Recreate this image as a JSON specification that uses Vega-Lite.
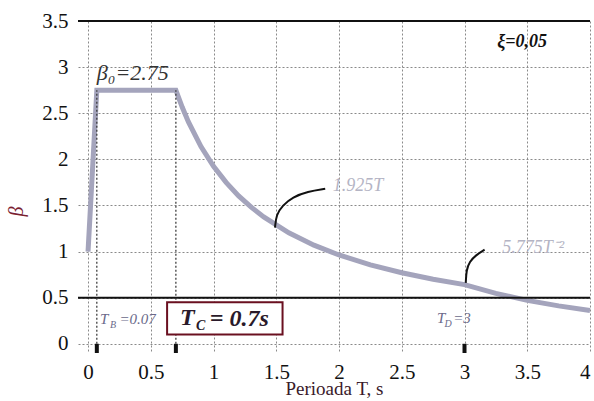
{
  "$schema": "https://vega.github.io/schema/vega-lite/v6.json",
  "width": 512,
  "height": 332,
  "autosize": {"type": "none"},
  "padding": {"left": 78, "top": 21, "right": 4, "bottom": 48},
  "background": "white",
  "config": {
    "view": {"stroke": null},
    "font": "Liberation Serif",
    "axis": {
      "domain": false,
      "ticks": false,
      "grid": true,
      "gridColor": "#8a8a8a",
      "gridDash": [2, 2],
      "gridWidth": 1,
      "labelFont": "Liberation Serif",
      "labelFontSize": 21,
      "labelColor": "#111",
      "titleFont": "Liberation Serif",
      "titleFontWeight": "normal"
    }
  },
  "datasets": {
    "spectrum": [
      {"T": 0, "beta": 1},
      {"T": 0.07, "beta": 2.75},
      {"T": 0.7, "beta": 2.75},
      {"T": 0.75, "beta": 2.567},
      {"T": 0.8, "beta": 2.406},
      {"T": 0.9, "beta": 2.139},
      {"T": 1.0, "beta": 1.925},
      {"T": 1.1, "beta": 1.75},
      {"T": 1.2, "beta": 1.604},
      {"T": 1.3, "beta": 1.481},
      {"T": 1.4, "beta": 1.375},
      {"T": 1.6, "beta": 1.203},
      {"T": 1.8, "beta": 1.069},
      {"T": 2.0, "beta": 0.963},
      {"T": 2.25, "beta": 0.856},
      {"T": 2.5, "beta": 0.77},
      {"T": 2.75, "beta": 0.7},
      {"T": 3.0, "beta": 0.642},
      {"T": 3.25, "beta": 0.547},
      {"T": 3.5, "beta": 0.471},
      {"T": 3.75, "beta": 0.411},
      {"T": 4.0, "beta": 0.361}
    ],
    "hlines": [{"beta": 3.5}, {"beta": 0.5}],
    "vlines": [{"T": 0.07, "beta": 0, "beta2": 2.75}, {"T": 0.7, "beta": 0, "beta2": 2.75}],
    "marks": [{"T": 0.07, "beta": -0.1, "beta2": 0}, {"T": 0.7, "beta": -0.1, "beta2": 0}, {"T": 3.0, "beta": -0.1, "beta2": 0}],
    "leaders": [
      {"id": 1, "T": 1.49, "beta": 1.26},
      {"id": 1, "T": 1.5, "beta": 1.4},
      {"id": 1, "T": 1.55, "beta": 1.5},
      {"id": 1, "T": 1.63, "beta": 1.59},
      {"id": 1, "T": 1.75, "beta": 1.65},
      {"id": 1, "T": 1.89, "beta": 1.68},
      {"id": 2, "T": 3.01, "beta": 0.66},
      {"id": 2, "T": 3.015, "beta": 0.8},
      {"id": 2, "T": 3.04, "beta": 0.89},
      {"id": 2, "T": 3.09, "beta": 0.96},
      {"id": 2, "T": 3.16, "beta": 1.02}
    ],
    "box": [{"T": 0.63, "T2": 1.55, "beta": 0.45, "beta2": 0.1}]
  },
  "layer": [
    {
      "data": {"name": "spectrum"},
      "mark": {"type": "line", "color": "#a4a4bc", "strokeWidth": 5},
      "encoding": {
        "x": {
          "field": "T", "type": "quantitative", "title": "Perioada T, s",
          "scale": {"domain": [-0.08, 4.0], "nice": false, "zero": false},
          "axis": {"values": [0, 0.5, 1, 1.5, 2, 2.5, 3, 3.5, 4], "format": "~g", "labelFont": "Liberation Serif", "labelFontSize": 21, "labelPadding": 8, "titleFont": "Liberation Serif", "titleFontSize": 19, "titleColor": "#3a1a2a", "titlePadding": -3}
        },
        "y": {
          "field": "beta", "type": "quantitative", "title": "β",
          "scale": {"domain": [-0.1, 3.5], "nice": false, "zero": false},
          "axis": {"values": [0, 0.5, 1, 1.5, 2, 2.5, 3, 3.5], "format": "~g", "labelFont": "Liberation Serif", "labelFontSize": 21, "labelPadding": 10, "titleFont": "Liberation Serif", "titleFontSize": 20, "titleColor": "#7a2030", "titleFontStyle": "italic", "titleX": -52, "titleY": 190}
        }
      }
    },
    {
      "data": {"name": "hlines"},
      "mark": {"type": "rule", "color": "#111", "strokeWidth": 2},
      "encoding": {"y": {"field": "beta", "type": "quantitative", "title": "β"}}
    },
    {
      "data": {"name": "vlines"},
      "mark": {"type": "rule", "color": "#333", "strokeWidth": 1.2, "strokeDash": [2, 2]},
      "encoding": {
        "x": {"field": "T", "type": "quantitative", "title": "Perioada T, s"},
        "y": {"field": "beta", "type": "quantitative", "title": "β"},
        "y2": {"field": "beta2"}
      }
    },
    {
      "data": {"name": "marks"},
      "mark": {"type": "rule", "color": "#111", "strokeWidth": 4},
      "encoding": {
        "x": {"field": "T", "type": "quantitative", "title": "Perioada T, s"},
        "y": {"field": "beta", "type": "quantitative", "title": "β"},
        "y2": {"field": "beta2"}
      }
    },
    {
      "data": {"name": "leaders"},
      "mark": {"type": "line", "color": "#111", "strokeWidth": 2, "interpolate": "basis"},
      "encoding": {
        "x": {"field": "T", "type": "quantitative", "title": "Perioada T, s"},
        "y": {"field": "beta", "type": "quantitative", "title": "β"},
        "detail": {"field": "id"}
      }
    },
    {
      "data": {"name": "box"},
      "mark": {"type": "rect", "fill": "white", "stroke": "#6a1020", "strokeWidth": 2},
      "encoding": {
        "x": {"field": "T", "type": "quantitative", "title": "Perioada T, s"},
        "x2": {"field": "T2"},
        "y": {"field": "beta", "type": "quantitative", "title": "β"},
        "y2": {"field": "beta2"}
      }
    },
    {
      "data": {"values": [{"T": 0.07, "beta": 2.94, "label": "β₀=2.75"}]},
      "mark": {"type": "text", "align": "left", "baseline": "middle", "font": "Liberation Serif", "fontStyle": "italic", "fontSize": 22, "color": "#333"},
      "encoding": {
        "x": {"field": "T", "type": "quantitative", "title": "Perioada T, s"},
        "y": {"field": "beta", "type": "quantitative", "title": "β"},
        "text": {"field": "label"}
      }
    },
    {
      "data": {"values": [{"T": 3.26, "beta": 3.27, "label": "ξ=0,05"}]},
      "mark": {"type": "text", "align": "left", "baseline": "middle", "font": "Liberation Serif", "fontStyle": "italic", "fontWeight": "bold", "fontSize": 18, "color": "#111"},
      "encoding": {
        "x": {"field": "T", "type": "quantitative", "title": "Perioada T, s"},
        "y": {"field": "beta", "type": "quantitative", "title": "β"},
        "text": {"field": "label"}
      }
    },
    {
      "data": {"values": [{"T": 1.95, "beta": 1.71, "label": "1.925T"}, {"T": 3.3, "beta": 1.04, "label": "5.775T⁻²"}]},
      "mark": {"type": "text", "align": "left", "baseline": "middle", "font": "Liberation Serif", "fontStyle": "italic", "fontSize": 18, "color": "#b4b4c4"},
      "encoding": {
        "x": {"field": "T", "type": "quantitative", "title": "Perioada T, s"},
        "y": {"field": "beta", "type": "quantitative", "title": "β"},
        "text": {"field": "label"}
      }
    },
    {
      "data": {"values": [{"T": 0.096, "beta": 0.27, "label": "T"}, {"T": 0.25, "beta": 0.27, "label": "=0.07"}, {"T": 2.78, "beta": 0.28, "label": "T"}, {"T": 2.91, "beta": 0.28, "label": "=3"}]},
      "mark": {"type": "text", "align": "left", "baseline": "middle", "font": "Liberation Serif", "fontStyle": "italic", "fontSize": 15, "color": "#6a6a8a"},
      "encoding": {
        "x": {"field": "T", "type": "quantitative", "title": "Perioada T, s"},
        "y": {"field": "beta", "type": "quantitative", "title": "β"},
        "text": {"field": "label"}
      }
    },
    {
      "data": {"values": [{"T": 0.175, "beta": 0.2, "label": "B"}, {"T": 2.84, "beta": 0.21, "label": "D"}]},
      "mark": {"type": "text", "align": "left", "baseline": "middle", "font": "Liberation Serif", "fontStyle": "italic", "fontSize": 10, "color": "#6a6a8a"},
      "encoding": {
        "x": {"field": "T", "type": "quantitative", "title": "Perioada T, s"},
        "y": {"field": "beta", "type": "quantitative", "title": "β"},
        "text": {"field": "label"}
      }
    },
    {
      "data": {"values": [{"T": 0.733, "beta": 0.28, "label": "T"}, {"T": 0.97, "beta": 0.27, "label": "= 0.7s"}]},
      "mark": {"type": "text", "align": "left", "baseline": "middle", "font": "Liberation Serif", "fontStyle": "italic", "fontWeight": "bold", "fontSize": 24, "color": "#2a1a2a"},
      "encoding": {
        "x": {"field": "T", "type": "quantitative", "title": "Perioada T, s"},
        "y": {"field": "beta", "type": "quantitative", "title": "β"},
        "text": {"field": "label"}
      }
    },
    {
      "data": {"values": [{"T": 0.86, "beta": 0.19, "label": "C"}]},
      "mark": {"type": "text", "align": "left", "baseline": "middle", "font": "Liberation Serif", "fontStyle": "italic", "fontWeight": "bold", "fontSize": 14, "color": "#2a1a2a"},
      "encoding": {
        "x": {"field": "T", "type": "quantitative", "title": "Perioada T, s"},
        "y": {"field": "beta", "type": "quantitative", "title": "β"},
        "text": {"field": "label"}
      }
    }
  ]
}
